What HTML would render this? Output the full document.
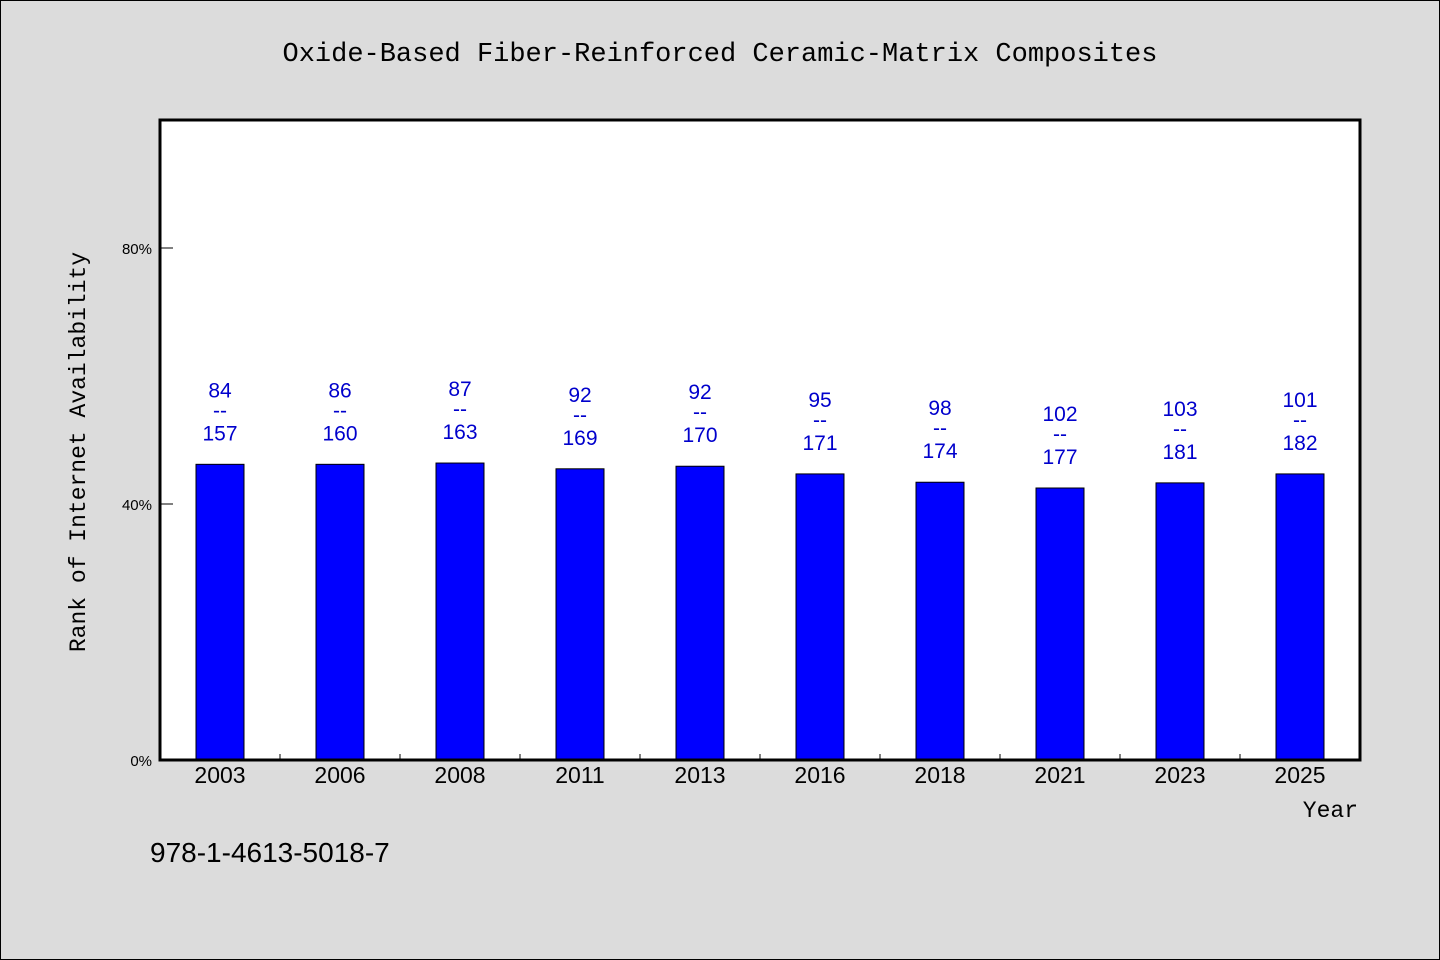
<!DOCTYPE html>
<html><head><meta charset="utf-8"><style>
body{margin:0;background:#dcdcdc;}
svg{display:block;font-family:"Liberation Sans","WenQuanYi Zen Hei",sans-serif;}
</style></head><body>
<svg id="chart" width="1440" height="960">
<rect x="0.5" y="0.5" width="1439" height="959" fill="#dcdcdc" stroke="#000"/>
<text x="720" y="61" text-anchor="middle" font-size="27" font-family="Liberation Mono, monospace">Oxide-Based Fiber-Reinforced Ceramic-Matrix Composites</text>
<rect x="160" y="120" width="1200" height="640" fill="#fff"/>
<g id="bars"></g>
<rect x="160" y="120" width="1200" height="640" fill="none" stroke="#000" stroke-width="3"/>
<g id="axes"></g>
<text transform="translate(85,452) rotate(-90)" text-anchor="middle" font-size="23" font-family="Liberation Mono, monospace">Rank of Internet Availability</text>
<text x="1358" y="817" text-anchor="end" font-size="23" font-family="Liberation Mono, monospace">Year</text>
<text x="150" y="862" font-size="28">978-1-4613-5018-7</text>
</svg>
<script>
const categories=["2003","2006","2008","2011","2013","2016","2018","2021","2023","2025"];
const values=[46.2,46.2,46.4,45.5,45.9,44.7,43.4,42.5,43.3,44.7];
const topLabels=[84,86,87,92,92,95,98,102,103,101];
const bottomLabels=[157,160,163,169,170,171,174,177,181,182];
const yTicks=[0,40,80];
const NS="http://www.w3.org/2000/svg";
const x0=160,plotW=1200,y0=760,yScale=6.4;
const band=plotW/categories.length;
function xc(i){return x0+band*i+band/2;}
function y(v){return y0-v*yScale;}
function mk(tag,attrs,parent,text){const e=document.createElementNS(NS,tag);for(const k in attrs)e.setAttribute(k,attrs[k]);if(text!==undefined)e.textContent=text;parent.appendChild(e);return e;}
const bars=document.getElementById('bars'),axes=document.getElementById('axes');
categories.forEach((c,i)=>{
  const top=y(values[i]);
  const r=mk('rect',{x:xc(i)-24,y:top,width:48,height:y0-top,fill:'#0000ff',stroke:'#000','stroke-width':1},bars);
  
  
  const t1=mk('text',{x:xc(i),y:top-67,'text-anchor':'middle','font-size':21,fill:'#0000cc'},bars,topLabels[i]);
  
  
  const d=mk('text',{x:xc(i),y:top-47,'text-anchor':'middle','font-size':21,fill:'#0000cc'},bars,'--');
  
  
  const t2=mk('text',{x:xc(i),y:top-24,'text-anchor':'middle','font-size':21,fill:'#0000cc'},bars,bottomLabels[i]);
  
  
  const xl=mk('text',{x:xc(i),y:783,'text-anchor':'middle','font-size':23},axes,c);
  
  
  if(i>0){const tk=mk('line',{x1:x0+band*i,x2:x0+band*i,y1:760,y2:754,stroke:'#000'},axes);
  
  }
});
yTicks.forEach(v=>{
  const ln=mk('line',{x1:160,x2:173,y1:y(v),y2:y(v),stroke:'#000'},axes);
  
  
  const tl=mk('text',{x:152,y:y(v)+6,'text-anchor':'end','font-size':15},axes,v+'%');
  
  
});
</script>
</body></html>
